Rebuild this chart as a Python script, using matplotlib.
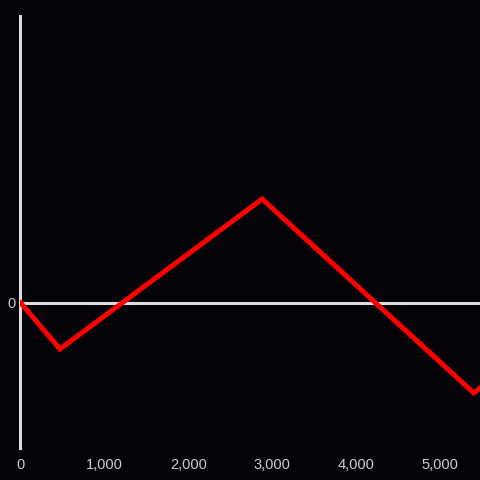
import matplotlib
matplotlib.use("Agg")
import matplotlib.pyplot as plt

# datos
x_vals = [0, 467, 2880, 5405, 5480]
y_vals = [0, -46, 104, -90, -85]
x_ticks = [0, 1000, 2000, 3000, 4000, 5000]
x_labels = ["0", "1,000", "2,000", "3,000", "4,000", "5,000"]

fondo = "#050308"
gris = "#dcdcdc"

plt.rcParams["font.family"] = ["Liberation Sans", "DejaVu Sans"]

fig = plt.figure(figsize=(4.8, 4.8), dpi=100, facecolor=fondo)
ax = fig.add_axes([20 / 480, 32 / 480, 460 / 480, 432 / 480])
ax.set_facecolor(fondo)

ax.axhline(0, color=gris, lw=2.2, zorder=1)
ax.plot(x_vals, y_vals, color="#ff0000", lw=3.6, solid_joinstyle="miter", zorder=3)

ax.set_xlim(-10, 5479)
ax.set_ylim(-145, 287)

for lado in ["top", "right", "bottom"]:
    ax.spines[lado].set_visible(False)
ax.spines["left"].set_color(gris)
ax.spines["left"].set_linewidth(2.2)

ax.set_xticks(x_ticks)
ax.set_xticklabels(x_labels)
ax.set_yticks([0])
ax.set_yticklabels(["0"])
ax.tick_params(axis="both", length=0, colors="#cfcfcf", labelsize=10.5)
ax.tick_params(axis="x", pad=7)
ax.tick_params(axis="y", pad=3)

fig.savefig("out.png", dpi=100, facecolor=fondo)
